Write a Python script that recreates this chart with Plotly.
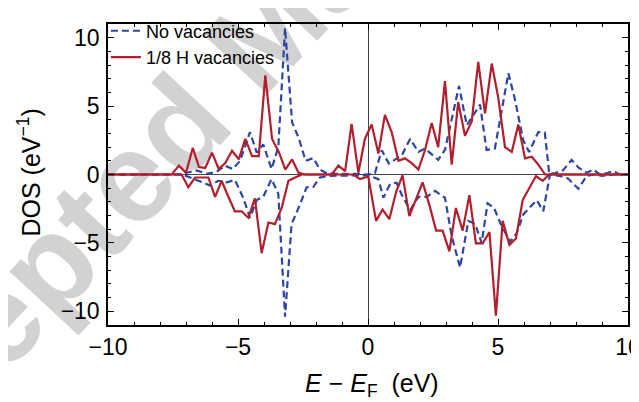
import plotly.graph_objects as go

# ---- data ----
# 1/8 H vacancies, spin up
ru_x = [-10, -7.55, -7.27, -7.0, -6.74, -6.5, -6.26, -6.0, -5.74, -5.49, -5.23, -4.97, -4.72, -4.46, -4.2,
        -3.95, -3.69, -3.43, -3.18, -2.92, -2.67, -2.41, -1.39, -1.14, -0.88, -0.63, -0.37, -0.12, 0.14, 0.4,
        0.65, 0.91, 1.17, 1.42, 1.68, 1.94, 2.19, 2.45, 2.7, 2.96, 3.22, 3.47, 3.73, 3.99, 4.24, 4.5, 4.76,
        5.01, 5.27, 5.53, 5.78, 6.04, 6.3, 6.55, 6.81, 7.07, 10]
ru_y = [0, 0, 0.65, 0.13, 1.94, 0.55, 0.48, 1.6, 0.4, 0.83, 1.73, 1.11, 2.6, 1.35, 1.35,
        7.24, 2.6, 1.65, 0.36, 1.1, 0.13, 0, 0, 0.65, 0.25, 3.7, 0.13, 2.6, 3.65, 1.53,
        4.36, 3.1, 1.0, 1.18, 0.83, 0.36, 1.77, 3.77, 2.0, 6.82, 0.72, 5.29, 2.83, 3.88, 8.23, 4.47, 8.11,
        5.6, 2.0, 1.65, 3.65, 1.18, 1.3, 0.72, 0, 0, 0]

# 1/8 H vacancies, spin down
rd_x = [-10, -7.17, -6.91, -6.65, -6.4, -6.14, -5.88, -5.63, -5.37, -5.12, -4.86, -4.6, -4.35, -4.09, -3.83,
        -3.58, -3.32, -3.06, -2.8, -2.55, -0.56, -0.31, 0.01, 0.31, 0.56, 0.82, 1.08, 1.33, 1.59, 1.85,
        2.1, 2.36, 2.62, 2.87, 3.13, 3.38, 3.64, 3.9, 4.15, 4.41, 4.67, 4.92, 5.18, 5.44, 5.69, 5.95,
        6.21, 6.46, 6.72, 6.97, 10]
rd_y = [0, 0, -0.93, -0.22, -0.22, -0.22, -1.63, -0.46, -1.63, -2.69, -2.69, -3.16, -1.75, -5.74, -3.51,
        -3.63, -2.45, -0.46, -0.22, 0, 0, -0.34, -0.15, -3.39, -2.57, -3.27, -1.28, -0.06, -3.04, -1.75,
        -0.57, -2.22, -4.1, -4.1, -5.62, -2.45, -4.1, -1.51, -5.03, -5.03, -4.21, -10.32, -3.39, -5.15, -4.68, -1.87,
        -0.93, -0.11, -0.46, 0, 0]

# No vacancies, spin up
bu_x = [-10, -7.3, -6.97, -6.6, -6.2, -5.82, -5.5, -5.2, -4.92, -4.54, -4.28, -4.03, -3.71, -3.45, -3.19,
        -2.92, -2.67, -2.4, -2.1, -1.85, -1.59, -1.2, -0.6, 0.0, 0.27, 0.53, 0.8, 1.04, 1.3, 1.62,
        1.94, 2.19, 2.45, 2.7, 2.96, 3.5, 3.8, 4.05, 4.31, 4.56, 4.88, 5.4, 5.65, 5.97, 6.2, 6.55, 6.8,
        6.97, 7.2, 7.5, 7.83, 8.1, 8.41, 8.67, 8.92, 9.2, 9.43, 9.69, 10]
bu_y = [0, 0, 0.13, 0.3, 0.05, 0.2, 0.65, 0.4, 1.0, 3.1, 1.6, 2.2, 0.4, 2.0, 10.7,
        3.8, 2.7, 1.0, 1.2, 0.36, 0.1, 0.05, 0.05, 0.0, 0.13, 1.77, 0.8, 1.1, 1.4, 2.6,
        1.65, 1.9, 1.45, 1.07, 1.8, 6.47, 3.6, 4.3, 5.1, 1.8, 1.9, 7.4, 5.5, 2.5, 1.65, 3.1, 3.06,
        0.05, 0.1, 0.3, 1.07, 0.5, 0.13, 0.36, 0, 0.1, 0.25, 0, 0]

# No vacancies, spin down
bd_x = [-10, -7.3, -7.0, -6.7, -6.4, -6.08, -5.76, -5.43, -5.12, -4.79, -4.54, -4.28, -4.03, -3.71, -3.45,
        -3.19, -2.94, -2.62, -2.36, -2.1, -1.85, -1.5, -0.8, 0.0, 0.4, 0.59, 0.85, 1.1, 1.3, 1.62,
        1.94, 2.26, 2.58, 2.96, 3.22, 3.54, 3.86, 4.12, 4.37, 4.6, 4.85, 5.1, 5.46, 5.72, 5.97, 6.49,
        6.74, 7.0, 7.38, 7.7, 8.09, 8.41, 8.7, 9.0, 9.5, 10]
bd_y = [0, 0, -0.1, -0.3, -0.55, -0.8, -0.46, -0.57, -0.4, -1.75, -3.16, -1.87, -1.63, -0.34, -1.4,
        -10.4, -3.63, -2.22, -0.93, -0.9, -0.22, -0.1, -0.1, -0.05, -0.34, -1.7, -0.69, -0.6, -1.5, -2.6,
        -1.63, -1.63, -1.2, -1.7, -4.5, -6.8, -3.4, -3.6, -5.0, -2.1, -2.45, -3.6, -4.92, -4.3, -2.92, -1.87,
        -2.69, 0, -0.1, -0.3, -1.05, -0.1, 0, -0.1, 0, 0]

x_ticks = [-10, -5, 0, 5, 10]
y_ticks = [-10, -5, 0, 5, 10]
series_names = ["No vacancies", "1/8 H vacancies"]

BLUE = "#2b46a3"
RED = "#b21e2b"
FONT = "Liberation Sans"

fig = go.Figure()
fig.add_trace(go.Scatter(x=bu_x, y=bu_y, mode="lines", name=series_names[0],
                         line=dict(color=BLUE, width=2.2, dash="7px,4px")))
fig.add_trace(go.Scatter(x=bd_x, y=bd_y, mode="lines", name=series_names[0], showlegend=False,
                         line=dict(color=BLUE, width=2.2, dash="7px,4px")))
fig.add_trace(go.Scatter(x=ru_x, y=ru_y, mode="lines", name=series_names[1],
                         line=dict(color=RED, width=2.2)))
fig.add_trace(go.Scatter(x=rd_x, y=rd_y, mode="lines", name=series_names[1], showlegend=False,
                         line=dict(color=RED, width=2.2)))

axis_common = dict(
    showgrid=False, showline=True, linecolor="black", linewidth=1.5, mirror="ticks",
    ticks="inside", ticklen=6, tickwidth=1.2, tickcolor="black",
    zeroline=True, zerolinecolor="#444", zerolinewidth=1,
    tickfont=dict(family=FONT, size=23, color="black"),
    minor=dict(dtick=1, ticks="inside", ticklen=3, tickwidth=1, tickcolor="black"),
    automargin=False, ticklabeloverflow="allow",
)
fig.update_xaxes(range=[-10, 10], tickvals=x_ticks, ticklabelstandoff=1, **axis_common)
fig.update_yaxes(range=[-11, 11], tickvals=y_ticks, ticklabelstandoff=2, **axis_common)

# watermark (drawn below everything)
fig.add_shape(type="line", xref="paper", yref="paper", x0=0.134, y0=0.722, x1=0.391, y1=1.198,
              layer="below", line=dict(width=0, color="rgba(0,0,0,0)"),
              label=dict(text="Accepted Manuscript", textposition="middle", yanchor="middle",
                         font=dict(family=FONT, size=128, color="#d2d2d2", weight="bold")))

# axis titles (plot area is 520x312 px; page body offset handled in margins)
fig.add_annotation(text="DOS (eV<sup>−1</sup>)", xref="paper", yref="paper",
                   x=(21 - 100) / 520, y=(317 - 159) / 312, xanchor="center", yanchor="middle",
                   textangle=-90, showarrow=False, font=dict(family=FONT, size=25, color="black"))
fig.add_annotation(text="<i>E</i> − <i>E</i><sub>F</sub>  (eV)", xref="paper", yref="paper",
                   x=(364 - 100) / 520, y=(317 - 379) / 312, xanchor="center", yanchor="middle",
                   showarrow=False, font=dict(family=FONT, size=25, color="black"))

fig.update_layout(
    width=639, height=402,
    margin=dict(l=100, r=19, t=5, b=85),
    plot_bgcolor="white", paper_bgcolor="white",
    font=dict(family=FONT, color="black"),
    legend=dict(x=-0.004, y=1.038, xanchor="left", yanchor="top", bgcolor="rgba(0,0,0,0)",
                font=dict(family=FONT, size=18), tracegroupgap=0, itemwidth=30),
    showlegend=True,
)

fig.write_html("out.html")
